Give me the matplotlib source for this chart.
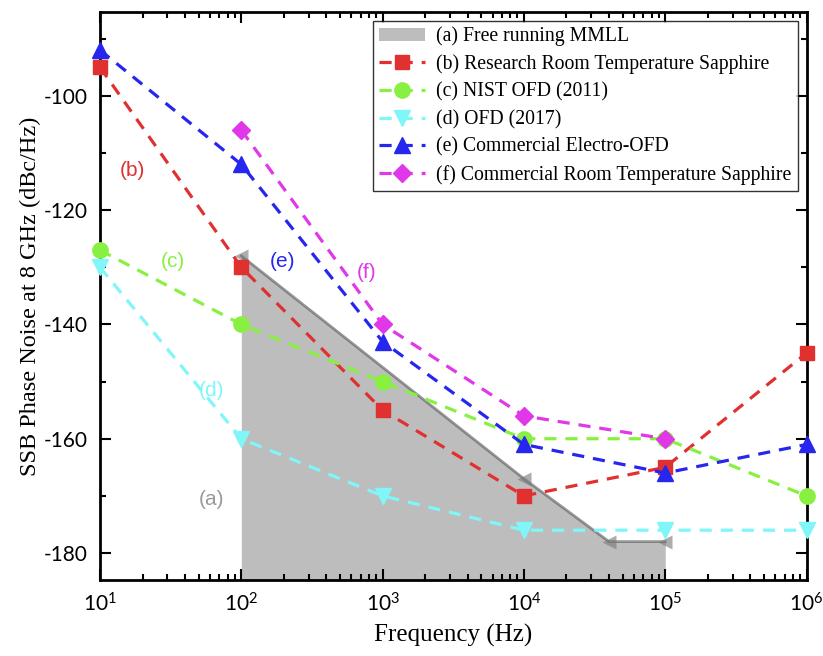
import matplotlib
matplotlib.use("Agg")
import matplotlib.pyplot as plt
from matplotlib.ticker import LogLocator, MultipleLocator, NullFormatter

plt.rcParams['axes.unicode_minus'] = False
plt.rcParams['font.family'] = ['Liberation Serif', 'DejaVu Serif']
plt.rcParams['mathtext.fontset'] = 'custom'
plt.rcParams['mathtext.rm'] = 'Lato'
plt.rcParams['mathtext.it'] = 'Lato:italic'
plt.rcParams['mathtext.bf'] = 'Lato:bold'

# (a) free running MMLL
freq_a = [1e2, 1e4, 4e4, 1e5]
noise_a = [-128, -167, -178, -178]

freq = [1e1, 1e2, 1e3, 1e4, 1e5, 1e6]
noise_b = [-95, -130, -155, -170, -165, -145]
noise_c = [-127, -140, -150, -160, -160, -170]
noise_d = [-130, -160, -170, -176, -176, -176]
noise_e = [-92, -112, -143, -161, -166, -161]
freq_f = [1e2, 1e3, 1e4, 1e5]
noise_f = [-106, -140, -156, -160]

labels = ['(a) Free running MMLL',
          '(b) Research Room Temperature Sapphire',
          '(c) NIST OFD (2011)',
          '(d) OFD (2017)',
          '(e) Commercial Electro-OFD',
          '(f) Commercial Room Temperature Sapphire']

fig = plt.figure(figsize=(8.23, 6.56), dpi=100)
ax = fig.add_axes([0.1215, 0.116, 0.8585, 0.866])

ax.fill_between(freq_a, noise_a, -200, color='#bdbdbd', linewidth=0, label=labels[0])
ax.plot(freq_a, noise_a, color='#555555', alpha=0.6, lw=2, marker='<', ms=10,
        markerfacecolor='#777777', markeredgecolor='none')

dash = (0, (3.8, 2.8))
kw = dict(ls=dash, lw=2.3, clip_on=False, zorder=3)
ax.plot(freq, noise_b, color='#e03030', marker='s', ms=10, label=labels[1], **kw)
ax.plot(freq, noise_c, color='#88f040', marker='o', ms=11, label=labels[2], **kw)
ax.plot(freq, noise_d, color='#80f6f8', marker='v', ms=11, label=labels[3], **kw)
ax.plot(freq, noise_e, color='#2626ee', marker='^', ms=11, label=labels[4], **kw)
ax.plot(freq_f, noise_f, color='#e038e8', marker='D', ms=9, label=labels[5], **kw)

sans = ['Liberation Sans', 'DejaVu Sans']
ax.text(17, -113, '(b)', color='#e03030', fontsize=15, family=sans, ha='center', va='center')
ax.text(33, -129, '(c)', color='#88f040', fontsize=15, family=sans, ha='center', va='center')
ax.text(195, -129, '(e)', color='#2626ee', fontsize=15, family=sans, ha='center', va='center')
ax.text(776, -131, '(f)', color='#e038e8', fontsize=15, family=sans, ha='center', va='center')
ax.text(62, -151.5, '(d)', color='#80f6f8', fontsize=15, family=sans, ha='center', va='center')
ax.text(62, -170.7, '(a)', color='#999999', fontsize=15, family=sans, ha='center', va='center')

ax.set_xscale('log')
ax.set_xlim(1e1, 1e6)
ax.set_ylim(-184.7, -85.3)
ax.yaxis.set_major_locator(MultipleLocator(20))
ax.yaxis.set_minor_locator(MultipleLocator(10))
ax.xaxis.set_major_locator(LogLocator(base=10, numticks=10))
ax.xaxis.set_minor_locator(LogLocator(base=10, subs=range(2, 10), numticks=10))
ax.xaxis.set_minor_formatter(NullFormatter())

ax.tick_params(which='both', direction='in', top=True, right=True, width=1.5, labelsize=15)
ax.tick_params(which='major', length=8, pad=9)
ax.tick_params(which='minor', length=4)
for lab in ax.get_xticklabels() + ax.get_yticklabels():
    lab.set_family(['Lato', 'DejaVu Sans'])
for s in ax.spines.values():
    s.set_linewidth(2)

ax.set_xlabel('Frequency (Hz)', fontsize=18, labelpad=6)
ax.set_ylabel('SSB Phase Noise at 8 GHz (dBc/Hz)', fontsize=17.5, labelpad=2)

leg = ax.legend(loc='upper right', fontsize=14.2, frameon=True, fancybox=False,
                edgecolor='black', borderaxespad=0.45, handlelength=2.3,
                handletextpad=0.6, labelspacing=0.42, borderpad=0.3)
leg.get_frame().set_linewidth(1)

fig.savefig('out.png', dpi=100)
